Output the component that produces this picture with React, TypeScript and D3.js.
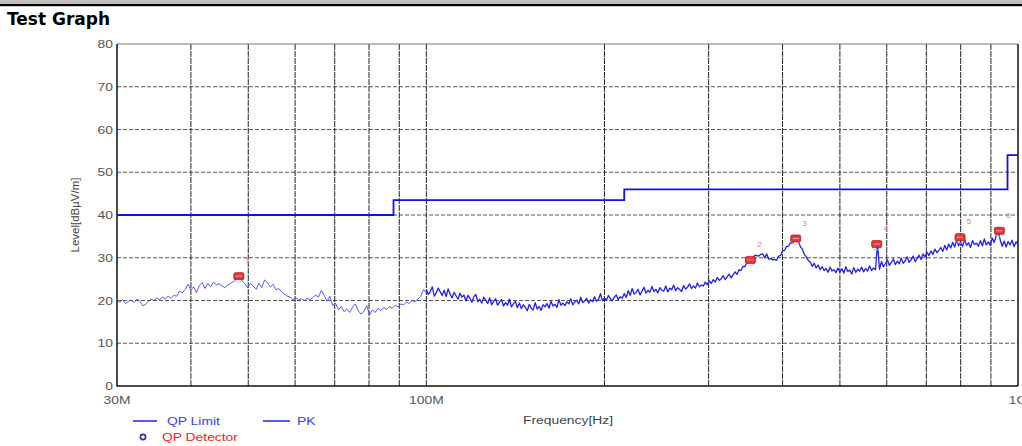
import React from "react";
import * as d3 from "d3";

// ---------- DATA ----------
const Y_TICKS = [0, 10, 20, 30, 40, 50, 60, 70, 80];
const X_TICK_LABELS = [
  { f: 30, label: "30M" },
  { f: 100, label: "100M" },
  { f: 1000, label: "1G" },
];
const GRID_FREQS = [40, 50, 60, 70, 80, 90, 100, 200, 300, 400, 500, 600, 700, 800, 900];

// QP limit (MHz, dBµV/m), step after
const LIMIT_F = [30, 88, 216, 960, 1000];
const LIMIT_DB = [40, 43.5, 46, 54, 54];

// PK sweep 30–100 MHz (log-spaced sweep points)
const PK_LOW_START = 30;
const PK_LOW_STOP = 100;
const PK_LOW = [
  20.0, 19.6, 20.2, 19.3, 19.8, 20.1, 19.5, 20.3, 19.9, 18.8,
  19.0, 19.8, 20.3, 20.0, 20.6, 20.2, 20.8, 20.4, 21.0, 20.5,
  21.2, 21.0, 22.2, 21.8, 22.6, 23.8, 22.5, 23.2, 21.8, 23.5,
  24.2, 22.8, 24.0, 23.2, 24.3, 23.7, 23.9, 23.4, 23.0, 23.6,
  24.0, 24.4, 24.9, 25.6, 24.6, 24.0, 23.0, 24.0, 23.4, 22.6,
  24.0, 23.0, 24.8, 24.2, 23.2, 23.8, 22.5, 22.8, 22.0, 21.5,
  21.0, 20.8, 20.2, 20.6, 20.1, 20.4, 20.0, 20.5, 20.2, 20.7,
  21.3, 20.8, 22.4, 21.2, 19.8, 21.0, 18.8, 19.4, 17.8, 18.6,
  17.4, 18.0, 17.2, 18.5, 19.2, 17.6, 16.8, 17.5, 18.8, 16.6,
  17.8, 17.2, 18.2, 17.6, 18.4, 17.9, 18.6, 18.2, 18.9, 18.5,
  19.2, 19.0, 19.6, 19.3, 20.0, 19.7, 20.3, 21.0, 22.6, 21.8,
];

// PK sweep 100–1000 MHz (log-spaced sweep points)
const PK_HIGH_START = 100;
const PK_HIGH_STOP = 1000;
const PK_HIGH = [
  22.6, 21.4, 22.1, 23.2, 21.0, 21.8, 22.9, 22.0, 21.2, 22.4,
  20.9, 22.7, 21.5, 20.6, 21.9, 21.1, 20.3, 21.7, 20.8, 21.3,
  19.9, 21.2, 20.5, 19.6, 20.9, 21.4, 19.7, 20.3, 19.4, 20.8,
  20.1, 19.3, 20.6, 19.0, 19.8, 20.4, 18.9, 19.6, 20.2, 18.7,
  19.5, 18.9, 20.3, 18.5, 19.2, 19.8, 18.3, 19.4, 18.1, 19.0,
  18.4, 17.6, 19.1, 18.2, 17.8, 19.5, 18.0, 18.6, 17.7, 19.0,
  18.5, 19.3, 18.2, 19.8, 18.7, 19.1, 18.4, 20.2, 18.9, 19.4,
  18.8, 19.7, 19.2, 20.4, 19.0, 19.6, 20.1, 19.2, 20.8, 19.5,
  19.9, 20.5, 19.4, 20.2, 19.7, 20.9, 19.8, 20.3, 21.6, 19.9,
  20.6, 20.0, 21.2, 20.4, 19.9, 20.8, 21.3, 20.2, 20.9, 20.5,
  21.6, 20.7, 22.3, 21.2, 22.8, 21.5, 21.9, 22.6, 21.3, 22.2,
  23.1, 21.7, 22.4, 21.9, 23.3, 22.1, 22.6, 21.8, 23.0, 22.4,
  22.2, 23.4, 22.0, 22.9, 22.5, 23.6, 22.3, 23.0, 22.6, 22.1,
  23.5, 22.7, 23.1, 23.9, 22.8, 23.4, 22.9, 24.1, 23.2, 23.6,
  23.4, 24.3, 23.7, 24.6, 24.0, 24.9, 24.3, 25.4, 24.7, 25.1,
  25.8, 24.9, 25.5, 26.2, 25.3, 26.0, 26.7, 26.1, 27.2, 27.0,
  28.0, 27.9, 29.0, 29.2, 29.3, 29.6, 30.6, 30.5, 30.4, 30.8,
  30.9, 30.0, 30.9, 29.7, 29.8, 29.5, 29.6, 29.4, 30.4, 30.5,
  31.6, 31.7, 32.6, 32.7, 33.5, 33.4, 34.3, 34.0, 33.8, 32.6,
  32.0, 30.8, 30.2, 29.4, 29.0, 28.0, 28.7, 27.6, 28.3, 27.2,
  27.9, 27.0, 27.5, 26.6, 27.8, 26.9, 27.2, 26.5, 27.6, 26.7,
  27.4, 26.4, 27.9, 26.8, 27.1, 26.2, 27.7, 26.6, 27.3, 26.9,
  27.8, 26.7, 27.5, 26.9, 28.1, 27.0, 27.6, 27.2, 33.4, 27.3,
  29.1, 27.9, 28.6, 29.5, 28.2, 28.9, 29.7, 28.4, 29.2, 28.6,
  29.9, 28.7, 29.3, 30.2, 28.9, 29.5, 30.4, 29.1, 29.8, 30.6,
  29.6, 30.9, 30.2, 31.3, 30.5, 31.6, 30.8, 32.0, 31.2, 31.7,
  32.4, 31.5, 32.9, 31.8, 33.2, 32.3, 33.6, 32.5, 34.2, 32.8,
  33.8, 32.6, 34.3, 32.9, 33.5, 32.4, 34.0, 33.1, 33.4, 32.7,
  34.0, 32.8, 34.4, 33.0, 33.7, 32.9, 34.6, 33.6, 35.2, 36.1,
  34.2, 32.7, 33.9, 32.5, 33.8, 33.0, 34.1, 32.6, 33.7, 33.1,
];

// QP detector results
const QP_F = [48.2, 353, 421, 577, 798, 930];
const QP_DB = [25.7, 29.5, 34.5, 33.2, 34.8, 36.3];
const QP_LABELS = ["1", "2", "3", "4", "5", "6"];

// ---------- LAYOUT ----------
const W = 1022;
const H = 446;
const X0 = 117;
const X1 = 1018;
const Y0 = 386;
const Y1 = 44;
const SX = 1.26; // horizontal text stretch of the original image
const FONT = "'Liberation Sans', Arial, sans-serif";

const x = d3.scaleLog().domain([30, 1000]).range([X0, X1]);
const y = d3.scaleLinear().domain([0, 80]).range([Y0, Y1]);

function sweep(start: number, stop: number, n: number) {
  return d3.range(n).map((i) => start * Math.pow(stop / start, i / (n - 1)));
}

type TP = {
  x: number;
  y: number;
  anchor?: string;
  size?: number;
  fill?: string;
  weight?: string | number;
  family?: string;
  sx?: number;
  children: React.ReactNode;
};
function T({ x, y, anchor = "start", size = 11, fill = "#555", weight, family = FONT, sx = SX, children }: TP) {
  return (
    <text
      transform={`translate(${x},${y}) scale(${sx},1)`}
      textAnchor={anchor as any}
      fontSize={size}
      fill={fill}
      fontWeight={weight as any}
      fontFamily={family}
    >
      {children}
    </text>
  );
}

export default function App() {
  const lowF = sweep(PK_LOW_START, PK_LOW_STOP, PK_LOW.length);
  const highF = sweep(PK_HIGH_START, PK_HIGH_STOP, PK_HIGH.length);
  const line = d3
    .line<[number, number]>()
    .x((d) => x(d[0]))
    .y((d) => y(d[1]));
  const lowPath = line(PK_LOW.map((v, i) => [lowF[i], v] as [number, number])) || "";
  const highPath = line(PK_HIGH.map((v, i) => [highF[i], v] as [number, number])) || "";
  const limitPath =
    d3
      .line<[number, number]>()
      .x((d) => x(d[0]))
      .y((d) => y(d[1]))
      .curve(d3.curveStepAfter)(LIMIT_F.map((f, i) => [f, LIMIT_DB[i]] as [number, number])) || "";

  return (
    <svg
      width={W}
      height={H}
      viewBox={`0 0 ${W} ${H}`}
      style={{ position: "absolute", left: 0, top: 0, background: "#fff" }}
    >
      <rect x={0} y={0} width={W} height={H} fill="#fff" />
      {/* header bar */}
      <rect x={0} y={0} width={W} height={4} fill="#bdbdbd" />
      <rect x={0} y={4} width={W} height={2.2} fill="#000" />
      <text x={7} y={25} fontFamily="'DejaVu Sans', sans-serif" fontWeight="bold" fontSize={17} fill="#000">
        Test Graph
      </text>

      {/* grid */}
      {Y_TICKS.filter((t) => t > 0 && t < 80).map((t) => (
        <line
          key={"h" + t}
          x1={X0}
          x2={X1}
          y1={y(t)}
          y2={y(t)}
          stroke="#444"
          strokeWidth={0.9}
          strokeDasharray="4,2"
        />
      ))}
      {GRID_FREQS.map((f) => (
        <line
          key={"v" + f}
          x1={x(f)}
          x2={x(f)}
          y1={Y1}
          y2={Y0}
          stroke="#222"
          strokeWidth={1}
          strokeDasharray="6,1"
        />
      ))}

      {/* frame */}
      <line x1={X0} x2={X1} y1={Y1} y2={Y1} stroke="#777" strokeWidth={1.2} />
      <line x1={X1} x2={X1} y1={Y1} y2={Y0} stroke="#111" strokeWidth={1.5} />
      <line x1={X0} x2={X0} y1={Y1} y2={Y0 + 0.5} stroke="#111" strokeWidth={1.5} />
      <line x1={X0} x2={X1} y1={Y0} y2={Y0} stroke="#111" strokeWidth={1.5} />

      {/* limit */}
      <path d={limitPath} fill="none" stroke="#1010f0" strokeWidth={1.8} />

      {/* PK trace */}
      <path d={lowPath} fill="none" stroke="#4646f0" strokeWidth={0.9} strokeLinejoin="round" />
      <path d={highPath} fill="none" stroke="#1f1fee" strokeWidth={1.3} strokeLinejoin="round" />

      {/* QP markers */}
      {QP_F.map((f, i) => (
        <g key={"m" + i}>
          <circle cx={x(f)} cy={y(QP_DB[i]) + 2} r={4} fill="none" stroke="#8fd0ff" strokeOpacity={0.6} strokeWidth={1.5} />
          <rect
            x={x(f) - 5}
            y={y(QP_DB[i]) - 3.5}
            width={10}
            height={7}
            rx={1.5}
            fill="#e8363a"
            stroke="#b51a1a"
            strokeWidth={0.8}
          />
          <line x1={x(f) - 3} x2={x(f) + 3} y1={y(QP_DB[i])} y2={y(QP_DB[i])} stroke="#f9a0a0" strokeWidth={1} />
          <text
            x={x(f) + 9}
            y={y(QP_DB[i]) - 13}
            fontSize={8}
            fontFamily={FONT}
            fill="#f07878"
            textAnchor="middle"
          >
            {QP_LABELS[i]}
          </text>
        </g>
      ))}

      {/* y tick labels */}
      {Y_TICKS.map((t) => (
        <T key={"yt" + t} x={113} y={y(t) + 4} anchor="end" size={11} fill="#555">
          {t}
        </T>
      ))}
      {/* x tick labels */}
      {X_TICK_LABELS.map((d) => (
        <T key={"xt" + d.f} x={x(d.f)} y={404} anchor="middle" size={11} fill="#555">
          {d.label}
        </T>
      ))}

      {/* axis titles */}
      <T x={568} y={424} anchor="middle" size={11} fill="#444">
        Frequency[Hz]
      </T>
      <text
        transform="translate(79,215) rotate(-90)"
        textAnchor="middle"
        fontSize={11.5}
        fontFamily={FONT}
        fill="#444"
      >
        Level[dBµV/m]
      </text>

      {/* legend */}
      <line x1={133} x2={157} y1={421} y2={421} stroke="#2020f0" strokeWidth={1.5} />
      <T x={167} y={425} size={11} fill="#3a3af5">
        QP Limit
      </T>
      <line x1={263} x2={290} y1={421} y2={421} stroke="#2020f0" strokeWidth={1.5} />
      <T x={297} y={425} size={11} fill="#3a3af5">
        PK
      </T>
      <circle cx={143} cy={437} r={2.6} fill="none" stroke="#2a2ab8" strokeWidth={1.6} />
      <T x={162} y={441} size={11} fill="#f02020">
        QP Detector
      </T>
    </svg>
  );
}
